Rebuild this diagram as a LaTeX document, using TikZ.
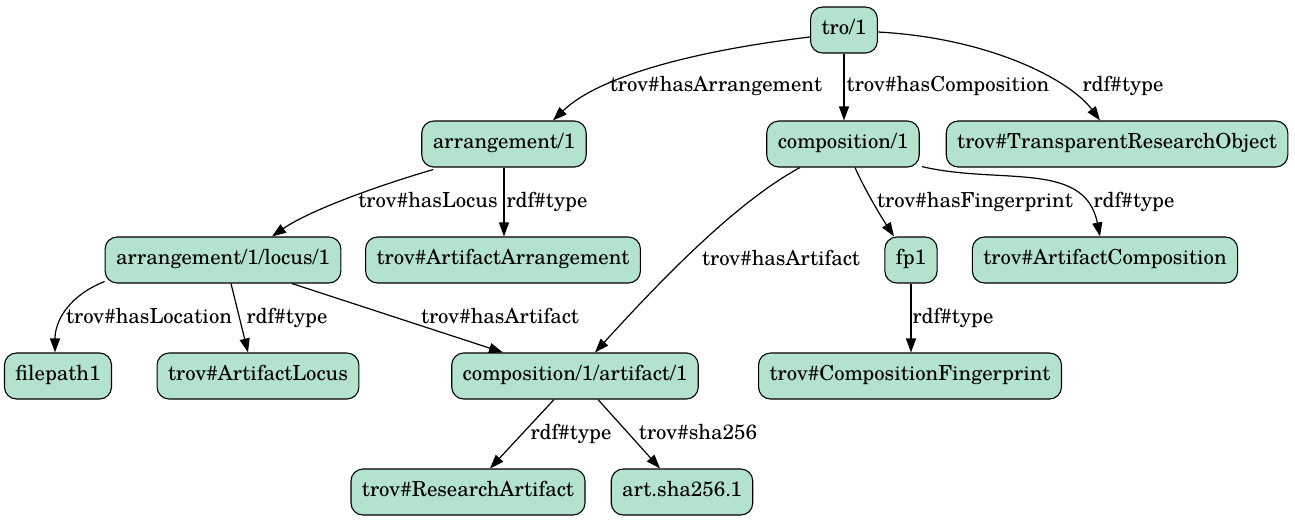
\documentclass[tikz,border=0pt]{standalone}
\usepackage{fontspec}
\setmainfont{texgyreschola-regular.otf}
\usetikzlibrary{arrows.meta,calc}
\definecolor{nodefill}{HTML}{B3E2CD}
\begin{document}
\begin{tikzpicture}[x=1pt,y=-1pt,
  every node/.style={font=\fontsize{20.7}{24}\selectfont},
  box/.style={draw=black,fill=nodefill,rounded corners=12pt,line width=1.1pt,
    minimum height=46pt,inner xsep=11pt,text height=14pt,text depth=4.5pt},
  lbl/.style={anchor=base,inner sep=0pt},
  edge/.style={line width=1.2pt,-{Triangle[length=14pt,width=10pt]}}]
\useasboundingbox (0,0) rectangle (1295,523);
% nodes
\node[box] (tro) at (844,30) {tro/1};
\node[box] (arr) at (504,144) {arrangement/1};
\node[box] (comp) at (843,144) {composition/1};
\node[box] (tro2) at (1117,144) {trov\#TransparentResearchObject};
\node[box] (locus) at (223,260) {arrangement/1/locus/1};
\node[box] (aa) at (503,260) {trov\#ArtifactArrangement};
\node[box] (fp) at (911,260) {fp1};
\node[box] (ac) at (1105,260) {trov\#ArtifactComposition};
\node[box] (fpath) at (58,376) {filepath1};
\node[box] (al) at (258,376) {trov\#ArtifactLocus};
\node[box] (art) at (575,376) {composition/1/artifact/1};
\node[box] (cf) at (910,376) {trov\#CompositionFingerprint};
\node[box] (ra) at (468,492) {trov\#ResearchArtifact};
\node[box] (sha) at (682,492) {art.sha256.1};
% edges
\draw[edge] ($(tro.west)+(0,7)$) .. controls (700,50) and (600,75) .. ($(arr.north)+(49,0)$);
\draw[edge] (tro.south) -- (tro.south |- comp.north);
\draw[edge] ($(tro.east)+(0,2)$) .. controls (990,38) and (1070,80) .. ($(tro2.north)+(-17,0)$);
\draw[edge] ($(arr.south west)+(12,2)$) .. controls (380,185) and (310,210) .. ($(locus.north)+(49,0)$);
\draw[edge] (arr.south) -- (arr.south |- aa.north);
\draw[edge] ($(comp.south)+(-43,0)$) .. controls (740,200) and (670,270) .. ($(art.north)+(20,0)$);
\draw[edge] ($(comp.south)+(12,0)$) .. controls (865,190) and (880,215) .. ($(fp.north)+(-17,0)$);
\draw[edge] ($(comp.south east)+(2,-1)$) .. controls (1000,185) and (1085,160) .. ($(ac.north)+(-5,0)$);
\draw[edge] ($(locus.south west)+(0,-2)$) .. controls (70,295) and (55,320) .. ($(fpath.north)+(-3,0)$);
\draw[edge] ($(locus.south)+(8,0)$) -- ($(al.north)+(-10,0)$);
\draw[edge] ($(locus.south)+(69,0)$) -- ($(art.north)+(-72,0)$);
\draw[edge] (fp.south) -- (fp.south |- cf.north);
\draw[edge] ($(art.south)+(-21,0)$) -- ($(ra.north)+(22,0)$);
\draw[edge] ($(art.south)+(23,0)$) -- ($(sha.north)+(-22,0)$);
% labels
\node[lbl] (l1) at (716,91.5) {trov\#hasArrangement};
\node[lbl] (l2) at (948,91.5) {trov\#hasComposition};
\node[lbl] (l3) at (1123,91.5) {rdf\#type};
\node[lbl] (l4) at (428,207.5) {trov\#hasLocus};
\node[lbl] (l5) at (547,207.5) {rdf\#type};
\node[lbl] (l6) at (781,265.5) {trov\#hasArtifact};
\node[lbl] (l7) at (975,207.5) {trov\#hasFingerprint};
\node[lbl] (l8) at (1134,207.5) {rdf\#type};
\node[lbl] (l9) at (149,323.5) {trov\#hasLocation};
\node[lbl] (l10) at (287,323.5) {rdf\#type};
\node[lbl] (l11) at (500,323.5) {trov\#hasArtifact};
\node[lbl] (l12) at (953,323.5) {rdf\#type};
\node[lbl] (l13) at (571,439.5) {rdf\#type};
\node[lbl] (l14) at (698,439.5) {trov\#sha256};
\end{tikzpicture}
\end{document}
